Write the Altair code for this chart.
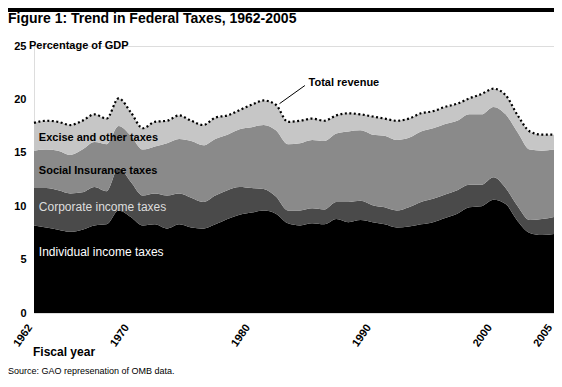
import altair as alt
import pandas as pd

years = list(range(1962, 2006))

individual = [8.2, 8.0, 7.8, 7.6, 7.8, 8.2, 8.3, 9.6, 9.0, 8.2,
              8.3, 7.9, 8.3, 8.0, 7.9, 8.3, 8.8, 9.2, 9.4, 9.6,
              9.3, 8.4, 8.2, 8.4, 8.3, 8.8, 8.5, 8.7, 8.5, 8.3,
              8.0, 8.1, 8.3, 8.5, 8.9, 9.3, 9.9, 10.0, 10.6, 10.2,
              8.6, 7.5, 7.3, 7.4]
corporate = [3.5, 3.7, 3.7, 3.6, 3.5, 3.6, 3.1, 4.0, 3.3, 2.8,
             2.9, 3.1, 2.9, 2.8, 2.5, 2.7, 2.7, 2.6, 2.3, 2.0,
             1.6, 1.2, 1.4, 1.4, 1.4, 1.6, 1.9, 1.8, 1.6, 1.6,
             1.6, 1.8, 2.1, 2.2, 2.2, 2.2, 2.1, 2.0, 2.1, 1.5,
             1.4, 1.2, 1.5, 1.6]
social = [3.5, 3.6, 3.7, 3.6, 4.0, 4.2, 4.4, 3.9, 4.3, 4.3,
          4.4, 4.9, 5.1, 5.3, 5.3, 5.3, 5.2, 5.4, 5.7, 6.0,
          6.2, 6.2, 6.3, 6.4, 6.4, 6.4, 6.6, 6.6, 6.6, 6.7,
          6.6, 6.5, 6.6, 6.6, 6.6, 6.5, 6.6, 6.6, 6.6, 6.9,
          6.9, 6.6, 6.4, 6.3]
excise = [2.6, 2.7, 2.7, 2.8, 2.7, 2.6, 2.4, 2.6, 2.2, 2.0,
          2.3, 2.1, 2.2, 1.9, 1.9, 2.0, 1.8, 1.8, 2.1, 2.3,
          2.4, 2.1, 2.1, 2.0, 1.9, 1.7, 1.7, 1.5, 1.7, 1.6,
          1.8, 1.8, 1.7, 1.6, 1.6, 1.6, 1.5, 1.9, 1.7, 1.8,
          1.6, 1.7, 1.5, 1.4]

categories = ["Individual income taxes", "Corporate income taxes",
              "Social insurance taxes", "Excise and other taxes"]
colors = ["#000000", "#4a4a4a", "#8a8a8a", "#c6c6c6"]
tick_years = [1962, 1970, 1980, 1990, 2000, 2005]
y_ticks = [0, 5, 10, 15, 20, 25]

series = [individual, corporate, social, excise]
rows = []
for k, (cat, vals) in enumerate(zip(categories, series)):
    for yr, v in zip(years, vals):
        rows.append({"year": yr, "value": v, "category": cat, "order": k})
long_df = pd.DataFrame(rows)
total_df = pd.DataFrame({"year": years,
                         "total": [a + b + c + d for a, b, c, d in zip(*series)]})

FONT = "Liberation Sans"

x_scale = alt.Scale(domain=[1962, 2005], nice=False, zero=False)
y_scale = alt.Scale(domain=[0, 25], nice=False)

areas = alt.Chart(long_df).mark_area(interpolate="monotone").encode(
    x=alt.X("year:Q", scale=x_scale, title=None,
            axis=alt.Axis(values=tick_years, format="d", labelAngle=-55,
                          labelAlign="right", labelBaseline="bottom",
                          labelFontWeight="bold", labelFontSize=11,
                          labelFont=FONT, labelColor="#000", labelPadding=15,
                          ticks=False, domain=False, grid=False)),
    y=alt.Y("value:Q", stack="zero", scale=y_scale, title=None,
            axis=alt.Axis(values=y_ticks, labelFontWeight="bold", labelFontSize=11,
                          labelFont=FONT, labelColor="#000", labelPadding=8,
                          ticks=False, domain=False, grid=False)),
    color=alt.Color("category:N", scale=alt.Scale(domain=categories, range=colors),
                    legend=None),
    order=alt.Order("order:Q"),
)

total_line = alt.Chart(total_df).mark_line(
    interpolate="monotone", color="#000", strokeWidth=2.2, strokeDash=[2, 2.5]
).encode(x=alt.X("year:Q", scale=x_scale), y=alt.Y("total:Q", scale=y_scale))

ann_df = pd.DataFrame({
    "year": [1962.4, 1962.4, 1962.4, 1962.4, 1984.7],
    "value": [16.4, 13.3, 9.9, 5.7, 21.5],
    "label": ["Excise and other taxes", "Social Insurance taxes",
              "Corporate income taxes", "Individual income taxes", "Total revenue"],
    "color": ["#000", "#000", "#dddddd", "#ffffff", "#000"],
    "weight": ["bold", "bold", "normal", "normal", "bold"],
})

def ann_text(i, size):
    r = ann_df.iloc[[i]]
    return alt.Chart(r).mark_text(
        align="left", baseline="middle", font=FONT, fontSize=size,
        fontWeight=r["weight"].iloc[0], color=r["color"].iloc[0]
    ).encode(x=alt.X("year:Q", scale=x_scale), y=alt.Y("value:Q", scale=y_scale),
             text="label:N")

leader = alt.Chart(pd.DataFrame({"x": [1982.3], "y": [19.6], "x2": [1984.4], "y2": [21.3]})).mark_rule(
    color="#000", strokeWidth=1
).encode(x=alt.X("x:Q", scale=x_scale), y=alt.Y("y:Q", scale=y_scale), x2="x2:Q", y2="y2:Q")

bar = alt.Chart(pd.DataFrame({"a": [0]})).mark_rule(color="#000", strokeWidth=4).encode(
    x=alt.value(-26), x2=alt.value(520), y=alt.value(-36))

def free_text(txt, x, y, size, weight="normal"):
    return alt.Chart(pd.DataFrame({"t": [txt]})).mark_text(
        align="left", baseline="alphabetic", font=FONT, fontSize=size,
        fontWeight=weight, color="#000"
    ).encode(x=alt.value(x), y=alt.value(y), text="t:N")

title = free_text("Figure 1: Trend in Federal Taxes, 1962-2005", -26, -23, 14, "bold")
ylab = alt.Chart(pd.DataFrame({"t": ["Percentage of GDP"]})).mark_text(
    align="left", baseline="middle", font=FONT, fontSize=11, fontWeight="bold", color="#000"
).encode(x=alt.value(-5), y=alt.value(0), text="t:N")
xlab = free_text("Fiscal year", -1, 310, 12, "bold")
source = free_text("Source: GAO represenation of OMB data.", -26, 328, 9)

chart = alt.layer(
    areas, total_line,
    ann_text(0, 11), ann_text(1, 11), ann_text(2, 12), ann_text(3, 12), ann_text(4, 11),
    leader, bar, title, ylab, xlab, source,
).properties(
    width=520, height=267,
    autosize=alt.AutoSizeParams(type="none"),
    padding={"left": 26, "top": 38, "right": 0, "bottom": 63},
).configure_view(stroke=None).configure(background="#ffffff")

chart.save("out.html", embed_options={"renderer": "svg", "actions": False})
